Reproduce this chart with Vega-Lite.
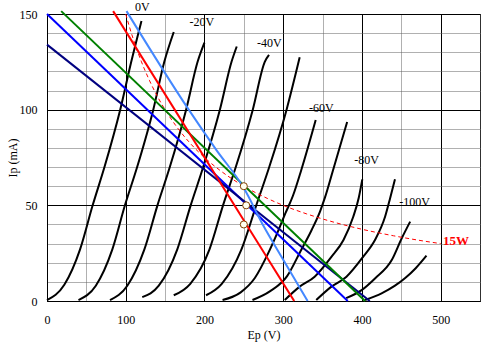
{
  "$schema": "https://vega.github.io/schema/vega-lite/v6.json",
  "width": 433,
  "height": 287,
  "autosize": {"type": "none"},
  "padding": {"left": 47, "top": 14, "right": 24, "bottom": 50},
  "background": "white",
  "config": {
    "view": {"stroke": "black", "strokeWidth": 1},
    "font": "Liberation Serif",
    "axis": {
      "labelFont": "Liberation Serif",
      "labelFontSize": 12,
      "labelColor": "black",
      "titleFont": "Liberation Serif",
      "titleFontSize": 12,
      "titleFontWeight": "normal",
      "titleColor": "black",
      "domainColor": "black",
      "ticks": false,
      "labelOverlap": false,
      "labelFlush": false
    }
  },
  "datasets": {
    "curves": [
      {"c": "0", "Ep": 0, "Ip": 0.5}, {"c": "0", "Ep": 22, "Ip": 8.5}, {"c": "0", "Ep": 42, "Ip": 27}, {"c": "0", "Ep": 58, "Ip": 50}, {"c": "0", "Ep": 73, "Ip": 70}, {"c": "0", "Ep": 93, "Ip": 100}, {"c": "0", "Ep": 107, "Ip": 125}, {"c": "0", "Ep": 120, "Ip": 146.4},
      {"c": "-10", "Ep": 40, "Ip": 0.5}, {"c": "-10", "Ep": 62, "Ip": 8}, {"c": "-10", "Ep": 83, "Ip": 27}, {"c": "-10", "Ep": 99, "Ip": 50}, {"c": "-10", "Ep": 114.5, "Ip": 70}, {"c": "-10", "Ep": 135, "Ip": 100}, {"c": "-10", "Ep": 149, "Ip": 125}, {"c": "-10", "Ep": 161, "Ip": 140.6},
      {"c": "-20", "Ep": 80, "Ip": 0.5}, {"c": "-20", "Ep": 102, "Ip": 8}, {"c": "-20", "Ep": 123.7, "Ip": 27}, {"c": "-20", "Ep": 140.3, "Ip": 50}, {"c": "-20", "Ep": 156, "Ip": 70}, {"c": "-20", "Ep": 176.7, "Ip": 100}, {"c": "-20", "Ep": 191.3, "Ip": 125}, {"c": "-20", "Ep": 200, "Ip": 135},
      {"c": "-30", "Ep": 121, "Ip": 2}, {"c": "-30", "Ep": 142, "Ip": 8}, {"c": "-30", "Ep": 165.5, "Ip": 27}, {"c": "-30", "Ep": 182.5, "Ip": 50}, {"c": "-30", "Ep": 198.4, "Ip": 70}, {"c": "-30", "Ep": 219.6, "Ip": 100}, {"c": "-30", "Ep": 234.4, "Ip": 125}, {"c": "-30", "Ep": 241, "Ip": 133},
      {"c": "-40", "Ep": 161, "Ip": 3}, {"c": "-40", "Ep": 182, "Ip": 9}, {"c": "-40", "Ep": 206.4, "Ip": 27}, {"c": "-40", "Ep": 223.6, "Ip": 50}, {"c": "-40", "Ep": 239.8, "Ip": 70}, {"c": "-40", "Ep": 261.4, "Ip": 100}, {"c": "-40", "Ep": 276.6, "Ip": 125}, {"c": "-40", "Ep": 282, "Ip": 128.6},
      {"c": "-50", "Ep": 202, "Ip": 3}, {"c": "-50", "Ep": 222, "Ip": 9}, {"c": "-50", "Ep": 247, "Ip": 27}, {"c": "-50", "Ep": 265.8, "Ip": 50}, {"c": "-50", "Ep": 282.3, "Ip": 70}, {"c": "-50", "Ep": 304.3, "Ip": 100}, {"c": "-50", "Ep": 321, "Ip": 127.4},
      {"c": "-60", "Ep": 223, "Ip": 0.5}, {"c": "-60", "Ep": 246, "Ip": 4.5}, {"c": "-60", "Ep": 264, "Ip": 12}, {"c": "-60", "Ep": 281, "Ip": 25}, {"c": "-60", "Ep": 293, "Ip": 36}, {"c": "-60", "Ep": 303, "Ip": 46}, {"c": "-60", "Ep": 312.4, "Ip": 55}, {"c": "-60", "Ep": 323, "Ip": 68.5}, {"c": "-60", "Ep": 341.3, "Ip": 94.6},
      {"c": "-70", "Ep": 261, "Ip": 0.5}, {"c": "-70", "Ep": 283, "Ip": 5}, {"c": "-70", "Ep": 305, "Ip": 13}, {"c": "-70", "Ep": 322, "Ip": 26}, {"c": "-70", "Ep": 336, "Ip": 37}, {"c": "-70", "Ep": 347, "Ip": 47}, {"c": "-70", "Ep": 353, "Ip": 54}, {"c": "-70", "Ep": 363.4, "Ip": 68.5}, {"c": "-70", "Ep": 381.3, "Ip": 93.6},
      {"c": "-80", "Ep": 302, "Ip": 0.5}, {"c": "-80", "Ep": 321, "Ip": 7.5}, {"c": "-80", "Ep": 340, "Ip": 12.7}, {"c": "-80", "Ep": 361.5, "Ip": 23.2}, {"c": "-80", "Ep": 376.6, "Ip": 31.9}, {"c": "-80", "Ep": 389, "Ip": 44}, {"c": "-80", "Ep": 396, "Ip": 54}, {"c": "-80", "Ep": 400.5, "Ip": 63.6},
      {"c": "-90", "Ep": 342, "Ip": 0.5}, {"c": "-90", "Ep": 361.3, "Ip": 7.5}, {"c": "-90", "Ep": 380.4, "Ip": 12.7}, {"c": "-90", "Ep": 401.7, "Ip": 23.2}, {"c": "-90", "Ep": 416.6, "Ip": 31.9}, {"c": "-90", "Ep": 429.4, "Ip": 44}, {"c": "-90", "Ep": 436, "Ip": 54}, {"c": "-90", "Ep": 442, "Ip": 63.6},
      {"c": "-100", "Ep": 380, "Ip": 1.5}, {"c": "-100", "Ep": 399.6, "Ip": 5.7}, {"c": "-100", "Ep": 416.6, "Ip": 11.8}, {"c": "-100", "Ep": 437.9, "Ip": 21.4}, {"c": "-100", "Ep": 450.6, "Ip": 32.8}, {"c": "-100", "Ep": 461.3, "Ip": 41.5},
      {"c": "-110", "Ep": 404, "Ip": 0.5}, {"c": "-110", "Ep": 425, "Ip": 4}, {"c": "-110", "Ep": 442, "Ip": 8}, {"c": "-110", "Ep": 455, "Ip": 12}, {"c": "-110", "Ep": 468, "Ip": 17}, {"c": "-110", "Ep": 482, "Ip": 23.7}
    ],
    "loads": [
      {"n": "a_blue", "Ep": 0, "Ip": 150}, {"n": "a_blue", "Ep": 382, "Ip": 0},
      {"n": "b_navy", "Ep": 0, "Ip": 134}, {"n": "b_navy", "Ep": 410, "Ip": 0},
      {"n": "c_green", "Ep": 18, "Ip": 151.5}, {"n": "c_green", "Ep": 404, "Ip": 0},
      {"n": "d_lightblue", "Ep": 101, "Ip": 151.5}, {"n": "d_lightblue", "Ep": 180, "Ip": 100}, {"n": "d_lightblue", "Ep": 215, "Ip": 79}, {"n": "d_lightblue", "Ep": 250, "Ip": 59}, {"n": "d_lightblue", "Ep": 274, "Ip": 40}, {"n": "d_lightblue", "Ep": 298, "Ip": 23}, {"n": "d_lightblue", "Ep": 331, "Ip": 0},
      {"n": "e_red", "Ep": 84, "Ip": 151.5}, {"n": "e_red", "Ep": 314, "Ip": 0}
    ],
    "hyper": [
      {"Ep": 100, "Ip": 150}, {"Ep": 105, "Ip": 142.9}, {"Ep": 110, "Ip": 136.4}, {"Ep": 120, "Ip": 125}, {"Ep": 130, "Ip": 115.4}, {"Ep": 140, "Ip": 107.1}, {"Ep": 150, "Ip": 100}, {"Ep": 165, "Ip": 90.9}, {"Ep": 180, "Ip": 83.3}, {"Ep": 200, "Ip": 75}, {"Ep": 220, "Ip": 68.2}, {"Ep": 250, "Ip": 60}, {"Ep": 280, "Ip": 53.6}, {"Ep": 300, "Ip": 50}, {"Ep": 330, "Ip": 45.5}, {"Ep": 360, "Ip": 41.7}, {"Ep": 400, "Ip": 37.5}, {"Ep": 440, "Ip": 34.1}, {"Ep": 470, "Ip": 31.9}, {"Ep": 500, "Ip": 30}
    ],
    "qpoints": [
      {"Ep": 250, "Ip": 60}, {"Ep": 253, "Ip": 50}, {"Ep": 250, "Ip": 40}
    ],
    "labels": [
      {"t": "0V", "Ep": 121, "Ip": 153.4},
      {"t": "-20V", "Ep": 196.6, "Ip": 145.6},
      {"t": "-40V", "Ep": 282.5, "Ip": 135},
      {"t": "-60V", "Ep": 348.5, "Ip": 101},
      {"t": "-80V", "Ep": 406, "Ip": 73.7},
      {"t": "-100V", "Ep": 467, "Ip": 51.5}
    ],
    "watt": [{"t": "15W", "Ep": 503, "Ip": 31.4}]
  },
  "encoding": {
    "x": {
      "field": "Ep",
      "type": "quantitative",
      "scale": {"domain": [0, 550], "nice": false, "zero": false},
      "axis": {
        "title": "Ep (V)",
        "values": [0, 50, 100, 150, 200, 250, 300, 350, 400, 450, 500, 550],
        "labelExpr": "datum.value % 100 === 0 && datum.value < 550 ? datum.label : ''",
        "grid": true,
        "gridColor": {"condition": {"test": "datum.value % 100 === 0", "value": "black"}, "value": "#606060"},
        "gridDash": {"condition": {"test": "datum.value % 100 === 0", "value": []}, "value": [1, 1]},
        "labelPadding": 13,
        "titlePadding": 4
      }
    },
    "y": {
      "field": "Ip",
      "type": "quantitative",
      "scale": {"domain": [0, 150], "nice": false, "zero": false},
      "axis": {
        "title": "Ip (mA)",
        "values": [0, 10, 20, 30, 40, 50, 60, 70, 80, 90, 100, 110, 120, 130, 140, 150],
        "labelExpr": "datum.value % 50 === 0 ? datum.label : ''",
        "grid": true,
        "gridColor": {"condition": {"test": "datum.value % 50 === 0", "value": "black"}, "value": "#606060"},
        "gridDash": {"condition": {"test": "datum.value % 50 === 0", "value": []}, "value": [1, 1]},
        "labelPadding": 10,
        "titlePadding": 0
      }
    }
  },
  "layer": [
    {
      "data": {"name": "curves"},
      "mark": {"type": "line", "color": "black", "strokeWidth": 2, "interpolate": "monotone"},
      "encoding": {"detail": {"field": "c"}}
    },
    {
      "data": {"name": "hyper"},
      "mark": {"type": "line", "color": "#ff0000", "strokeWidth": 1, "strokeDash": [4, 3], "interpolate": "monotone"},
      "encoding": {}
    },
    {
      "data": {"name": "loads"},
      "mark": {"type": "line", "strokeWidth": 2, "interpolate": "monotone"},
      "encoding": {
        "color": {
          "field": "n",
          "type": "nominal",
          "scale": {"domain": ["a_blue", "b_navy", "c_green", "d_lightblue", "e_red"], "range": ["#0000ff", "#000080", "#008000", "#4488ff", "#ff0000"]},
          "legend": null
        }
      }
    },
    {
      "data": {"name": "qpoints"},
      "mark": {"type": "point", "shape": "circle", "filled": true, "fill": "#fffff0", "stroke": "#7f3f00", "strokeWidth": 1, "size": 50, "opacity": 1}
    },
    {
      "data": {"name": "labels"},
      "mark": {"type": "text", "font": "Liberation Serif", "fontSize": 12, "color": "black", "align": "center", "baseline": "middle"},
      "encoding": {"text": {"field": "t"}}
    },
    {
      "data": {"name": "watt"},
      "mark": {"type": "text", "font": "Liberation Serif", "fontSize": 13, "fontWeight": "bold", "color": "#ff0000", "align": "left", "baseline": "middle"},
      "encoding": {"text": {"field": "t"}}
    }
  ]
}
